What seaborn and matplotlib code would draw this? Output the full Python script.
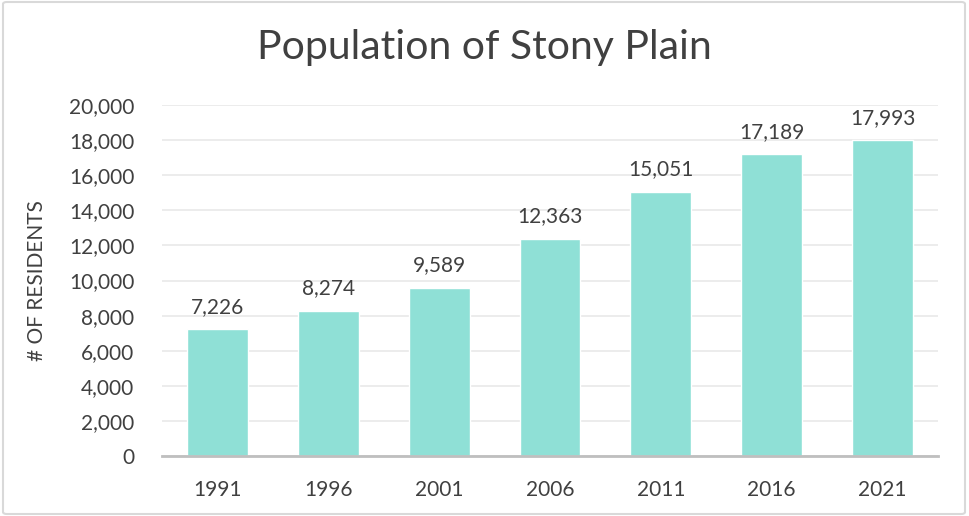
import matplotlib
matplotlib.use("Agg")
import matplotlib.pyplot as plt
import seaborn as sns
import pandas as pd
from matplotlib.patches import FancyBboxPatch
from matplotlib.ticker import FuncFormatter, FixedLocator

years = ["1991", "1996", "2001", "2006", "2011", "2016", "2021"]
population = [7226, 8274, 9589, 12363, 15051, 17189, 17993]
yticks = [0, 2000, 4000, 6000, 8000, 10000, 12000, 14000, 16000, 18000, 20000]

title = "Population of Stony Plain"
ylabel = "# OF RESIDENTS"

df = pd.DataFrame({"Year": years, "Population": population})

sns.set_theme(style="white")
plt.rcParams["font.family"] = ["Lato", "DejaVu Sans"]

TXT = "#404040"
BAR = "#8FE0D6"

fig = plt.figure(figsize=(9.69, 5.16), dpi=100)
fig.patch.set_facecolor("white")
W, H = 969, 516
ax = fig.add_axes([162 / W, (H - 456) / H, (938 - 162) / W, (456 - 105) / H])
ax.set_facecolor("white")

sns.barplot(data=df, x="Year", y="Population", color=BAR, width=0.55,
            saturation=1, ax=ax, zorder=3)

ax.set_ylim(0, 20000)
ax.set_xlim(-0.5, len(years) - 0.5)
ax.set_yticks(yticks)
ax.yaxis.set_major_formatter(FuncFormatter(lambda v, p: f"{int(v):,}"))
ax.grid(axis="y", color="#EBEBEB", linewidth=1.3, zorder=0)
ax.grid(axis="x", visible=False)
for s in ["top", "right", "left"]:
    ax.spines[s].set_visible(False)
ax.spines["bottom"].set_color("#BFBFBF")
ax.spines["bottom"].set_linewidth(2)
ax.spines["bottom"].set_zorder(4)

ax.tick_params(axis="y", length=0, pad=20, labelsize=15, labelcolor=TXT)
ax.tick_params(axis="x", which="major", length=0, pad=17, labelsize=15, labelcolor=TXT)
ax.xaxis.set_minor_locator(FixedLocator([i - 0.5 for i in range(len(years) + 1)]))
ax.tick_params(axis="x", which="minor", length=6, width=2, color="#BFBFBF", direction="out")

ax.set_xlabel("")
ax.set_ylabel(ylabel, fontsize=15, color=TXT, labelpad=16)

for c in ax.containers:
    ax.bar_label(c, labels=[f"{v:,}" for v in population], padding=9,
                 fontsize=15, color=TXT)

fig.text(484 / W, (H - 48) / H, title, ha="center", va="center", fontsize=29.5, color=TXT)

border = FancyBboxPatch((3 / W, 2 / H), (965 - 3) / W, (514 - 2) / H,
                        boxstyle="round,pad=0,rounding_size=0.004",
                        transform=fig.transFigure, fill=False,
                        edgecolor="#D9D9D9", linewidth=1.5)
fig.patches.append(border)

fig.savefig("out.png", dpi=100)
